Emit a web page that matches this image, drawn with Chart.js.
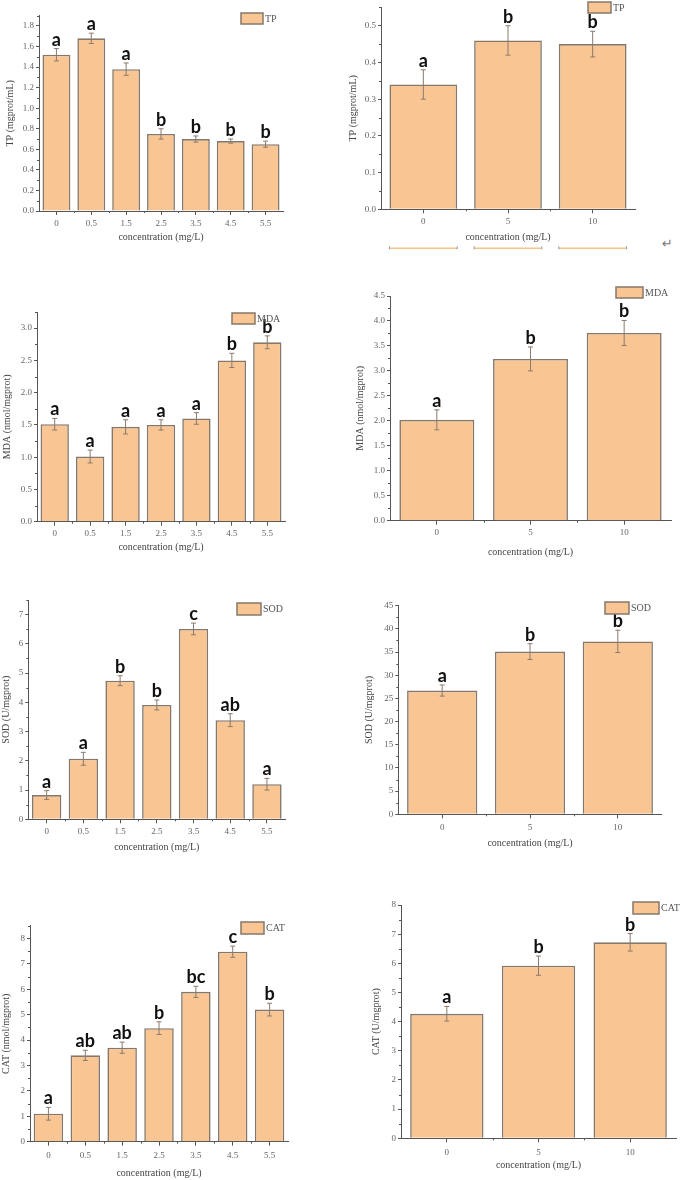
<!DOCTYPE html>
<html><head><meta charset="utf-8">
<script src="https://cdn.jsdelivr.net/npm/chart.js@4.4.1/dist/chart.umd.min.js"></script>
<style>
html,body{margin:0;padding:0;background:#fff;}
#wrap{position:relative;width:685px;height:1180px;overflow:hidden;background:#fff;}
canvas{position:absolute;}
#ret{position:absolute;left:662px;top:236px;font:13px "DejaVu Sans";color:#777;}
</style></head><body><div id="wrap"><span id="ret">↵</span></div>
<script>
// ---- categories (x tick labels) ----
const concLeft = ['0','0.5','1.5','2.5','3.5','4.5','5.5'];
const concRight = ['0','5','10'];

// ---- TP ----
const tpLeft = [1.52, 1.68, 1.38, 0.75, 0.70, 0.68, 0.65];
const tpLeftErr = [0.06, 0.05, 0.06, 0.05, 0.03, 0.02, 0.03];
const tpLeftSig = ['a','a','a','b','b','b','b'];
const tpRight = [0.34, 0.46, 0.45];
const tpRightErr = [0.04, 0.04, 0.035];
const tpRightSig = ['a','b','b'];

// ---- MDA ----
const mdaLeft = [1.51, 1.01, 1.47, 1.50, 1.60, 2.50, 2.78];
const mdaLeftErr = [0.09, 0.10, 0.11, 0.08, 0.09, 0.11, 0.10];
const mdaLeftSig = ['a','a','a','a','a','b','b'];
const mdaRight = [2.02, 3.24, 3.76];
const mdaRightErr = [0.20, 0.24, 0.25];
const mdaRightSig = ['a','b','b'];

// ---- SOD ----
const sodLeft = [0.83, 2.07, 4.74, 3.91, 6.51, 3.39, 1.20];
const sodLeftErr = [0.15, 0.22, 0.17, 0.17, 0.20, 0.22, 0.20];
const sodLeftSig = ['a','a','b','b','c','ab','a'];
const sodRight = [26.7, 35.1, 37.3];
const sodRightErr = [1.2, 1.7, 2.4];
const sodRightSig = ['a','b','b'];

// ---- CAT ----
const catLeft = [1.10, 3.40, 3.70, 4.47, 5.90, 7.48, 5.20];
const catLeftErr = [0.25, 0.20, 0.22, 0.25, 0.22, 0.22, 0.25];
const catLeftSig = ['a','ab','ab','b','bc','c','b'];
const catRight = [4.27, 5.92, 6.72];
const catRightErr = [0.25, 0.33, 0.30];
const catRightSig = ['a','b','b'];

const xTitleText = 'concentration (mg/L)';

const panels = [
  {labels:concLeft, values:tpLeft, errors:tpLeftErr, sig:tpLeftSig, name:'TP', yTitle:'TP (mgprot/mL)',
   max:1.9, step:0.2, minor:0.1, dec:1, box:[0,0,340,262], area:{L:39,R:283,T:15.7,B:211},
   yTitlePad:4, xTitlePad:19, tickPad:3, legend:[241,13,22,11]},
  {labels:concRight, values:tpRight, errors:tpRightErr, sig:tpRightSig, name:'TP', yTitle:'TP (mgprot/mL)',
   max:0.55, step:0.1, minor:0.05, dec:1, box:[340,0,345,262], area:{L:381,R:635,T:5.8,B:209.3},
   yTitlePad:7, xTitlePad:19, tickPad:3, legend:[588,2,23,11], underline:true},
  {labels:concLeft, values:mdaLeft, errors:mdaLeftErr, sig:mdaLeftSig, name:'MDA', yTitle:'MDA (nmol/mgprot)',
   max:3.25, step:0.5, minor:0.25, dec:1, box:[0,262,340,318], area:{L:37,R:285,T:312,B:521.7},
   yTitlePad:1.3, xTitlePad:27, tickPad:3, legend:[232,313,23,11]},
  {labels:concRight, values:mdaRight, errors:mdaRightErr, sig:mdaRightSig, name:'MDA', yTitle:'MDA (nmol/mgprot)',
   max:4.5, step:0.5, minor:0.25, dec:1, box:[340,262,345,318], area:{L:390,R:671,T:296,B:520.7},
   yTitlePad:14.7, xTitlePad:22, tickPad:3, legend:[616,287,27,11]},
  {labels:concLeft, values:sodLeft, errors:sodLeftErr, sig:sodLeftSig, name:'SOD', yTitle:'SOD (U/mgprot)',
   max:7.5, step:1, minor:0.5, dec:0, box:[0,580,340,290], area:{L:28.3,R:285.3,T:600,B:819.3},
   yTitlePad:0, xTitlePad:17, tickPad:3, legend:[237,603,24,12]},
  {labels:concRight, values:sodRight, errors:sodRightErr, sig:sodRightSig, name:'SOD', yTitle:'SOD (U/mgprot)',
   max:45, step:5, minor:2.5, dec:0, box:[340,580,345,290], area:{L:398.3,R:661.7,T:605.7,B:814.3},
   yTitlePad:23, xTitlePad:20.5, tickPad:4, legend:[605,602,24,12]},
  {labels:concLeft, values:catLeft, errors:catLeftErr, sig:catLeftSig, name:'CAT', yTitle:'CAT (nmol/mgprot)',
   max:8.5, step:1, minor:0.5, dec:0, box:[0,870,340,310], area:{L:30,R:288,T:925.8,B:1141.7},
   yTitlePad:0, xTitlePad:0.7, tickPad:5, legend:[241,922,23,12]},
  {labels:concRight, values:catRight, errors:catRightErr, sig:catRightSig, name:'CAT', yTitle:'CAT (U/mgprot)',
   max:8, step:1, minor:0.5, dec:0, box:[340,870,345,310], area:{L:401,R:676,T:905,B:1138.3},
   yTitlePad:30.7, xTitlePad:9, tickPad:5, legend:[633,902,26,12]}
];

const FILL = '#f9c592';
const EDGE = '#85786b';
const AXIS = '#555';
const SERIF = '"Liberation Serif", "Times New Roman", serif';

const wrap = document.getElementById('wrap');

panels.forEach((p, idx) => {
  const [cx, cy, cw, ch] = p.box;
  const cv = document.createElement('canvas');
  cv.width = cw; cv.height = ch;
  cv.style.left = cx + 'px'; cv.style.top = cy + 'px';
  cv.style.width = cw + 'px'; cv.style.height = ch + 'px';
  wrap.appendChild(cv);

  const deco = {
    id: 'deco' + idx,
    afterDatasetsDraw(chart) {
      const ctx = chart.ctx;
      const ys = chart.scales.y;
      const meta = chart.getDatasetMeta(0);
      ctx.save();
      meta.data.forEach((bar, i) => {
        const v = p.values[i], e = p.errors[i];
        const yt = ys.getPixelForValue(v + e), yb = ys.getPixelForValue(v - e);
        ctx.strokeStyle = '#8a7b6e';
        ctx.lineWidth = 1;
        ctx.beginPath();
        ctx.moveTo(bar.x, yt); ctx.lineTo(bar.x, yb);
        ctx.moveTo(bar.x - 2.5, yt); ctx.lineTo(bar.x + 2.5, yt);
        ctx.moveTo(bar.x - 2.5, yb); ctx.lineTo(bar.x + 2.5, yb);
        ctx.stroke();
        ctx.fillStyle = '#111';
        ctx.font = '700 18px Lato';
        ctx.textAlign = 'center';
        ctx.textBaseline = 'alphabetic';
        ctx.fillText(p.sig[i], bar.x, yt - 3);
        if (p.underline) {
          const yy = ys.bottom + 39;
          ctx.strokeStyle = '#f4c38e';
          ctx.lineWidth = 1.5;
          ctx.beginPath();
          ctx.moveTo(bar.x - bar.width / 2, yy); ctx.lineTo(bar.x + bar.width / 2, yy);
          ctx.stroke();
          ctx.strokeStyle = '#999';
          ctx.lineWidth = 1;
          ctx.beginPath();
          ctx.moveTo(bar.x - bar.width / 2, yy - 2); ctx.lineTo(bar.x - bar.width / 2, yy + 1);
          ctx.moveTo(bar.x + bar.width / 2, yy - 2); ctx.lineTo(bar.x + bar.width / 2, yy + 1);
          ctx.stroke();
        }
      });
      ctx.restore();
    },
    afterDraw(chart) {
      const ctx = chart.ctx;
      const ys = chart.scales.y, xs = chart.scales.x;
      ctx.save();
      ctx.strokeStyle = AXIS;
      ctx.lineWidth = 1;
      ctx.beginPath();
      const n = Math.round(p.max / p.minor);
      for (let k = 1; k <= n; k++) {
        const v = k * p.minor;
        const r = v / p.step;
        if (Math.abs(r - Math.round(r)) < 1e-6) continue;
        const y = Math.round(ys.getPixelForValue(v)) + 0.5;
        ctx.moveTo(ys.right, y); ctx.lineTo(ys.right - 2, y);
      }
      for (let i = 0; i < p.labels.length - 1; i++) {
        const x = Math.round((xs.getPixelForTick(i) + xs.getPixelForTick(i + 1)) / 2) + 0.5;
        ctx.moveTo(x, xs.top); ctx.lineTo(x, xs.top + 2);
      }
      ctx.stroke();
      const [lx, ly, lw, lh] = p.legend;
      const bx = lx - cx, by = ly - cy;
      ctx.fillStyle = FILL;
      ctx.fillRect(bx, by, lw, lh);
      ctx.strokeStyle = EDGE;
      ctx.lineWidth = 1.5;
      ctx.strokeRect(bx, by, lw, lh);
      ctx.fillStyle = '#555';
      ctx.font = '10px ' + SERIF;
      ctx.textAlign = 'left';
      ctx.textBaseline = 'middle';
      ctx.fillText(p.name, bx + lw + 2, by + lh / 2 + 0.5);
      ctx.restore();
    }
  };

  new Chart(cv, {
    type: 'bar',
    data: {
      labels: p.labels,
      datasets: [{
        label: p.name,
        data: p.values,
        backgroundColor: FILL,
        borderColor: EDGE,
        borderWidth: 1.6,
        barPercentage: 0.8,
        categoryPercentage: 1.0
      }]
    },
    options: {
      responsive: false,
      animation: false,
      devicePixelRatio: 1,
      layout: { padding: { left: 0, bottom: 0, top: p.area.T - cy, right: cx + cw - p.area.R } },
      plugins: { legend: { display: false }, tooltip: { enabled: false } },
      scales: {
        x: {
          type: 'category',
          offset: true,
          grid: { display: true, drawOnChartArea: false, drawTicks: true, tickLength: 4, color: AXIS, offset: false },
          border: { display: true, color: AXIS, width: 1 },
          ticks: { font: { family: SERIF, size: 9 }, color: '#666', padding: p.tickPad, maxRotation: 0, autoSkip: false },
          title: { display: true, text: xTitleText, font: { family: SERIF, size: 10 }, color: '#444',
                   padding: { top: 0, bottom: p.xTitlePad } },
          afterFit: s => { s.height = cy + ch - p.area.B; }
        },
        y: {
          min: 0, max: p.max,
          grid: { display: true, drawOnChartArea: false, drawTicks: true, tickLength: 3, color: AXIS },
          border: { display: true, color: AXIS, width: 1 },
          ticks: { stepSize: p.step, includeBounds: false, callback: v => Number(v).toFixed(p.dec),
                   font: { family: SERIF, size: 9 }, color: '#666', padding: 2 },
          title: { display: true, text: p.yTitle, font: { family: SERIF, size: 10 }, color: '#444',
                   padding: { top: p.yTitlePad, bottom: 0 } },
          afterFit: s => { s.width = p.area.L - cx; }
        }
      }
    },
    plugins: [deco]
  });
});
</script>
</body></html>
